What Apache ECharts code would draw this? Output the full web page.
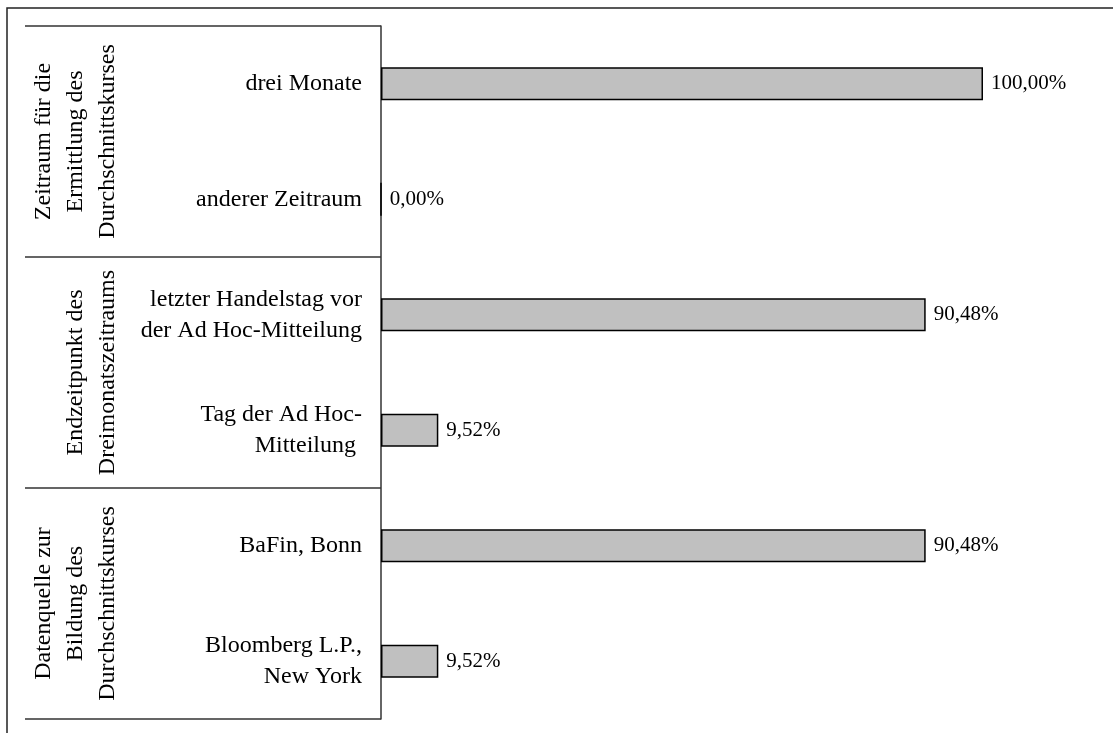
<!DOCTYPE html>
<html>
<head>
<meta charset="utf-8">
<script src="https://cdn.jsdelivr.net/npm/echarts@6/dist/echarts.min.js"></script>
<style>
  html, body { margin: 0; padding: 0; background: #fff; }
  #chart { width: 1113px; height: 733px; }
</style>
</head>
<body>
<div id="chart"></div>
<script>
const categories = [
  'drei Monate',
  'anderer Zeitraum',
  'letzter Handelstag vor\nder Ad Hoc-Mitteilung',
  'Tag der Ad Hoc-\nMitteilung ',
  'BaFin, Bonn',
  'Bloomberg L.P.,\nNew York'
];
const values = [100.00, 0.00, 90.48, 9.52, 90.48, 9.52];
const groups = [
  'Zeitraum für die\nErmittlung des\nDurchschnittskurses',
  'Endzeitpunkt des\nDreimonatszeitraums',
  'Datenquelle zur\nBildung des\nDurchschnittskurses'
];

const FONT = '"Liberation Serif", "Times New Roman", serif';
const chart = echarts.init(document.getElementById('chart'));
chart.setOption({
  animation: false,
  backgroundColor: '#fff',
  grid: { left: 381, right: 130, top: 26, bottom: 14, containLabel: false },
  xAxis: { type: 'value', min: 0, max: 100, show: false },
  yAxis: [
    {
      type: 'category',
      data: categories,
      inverse: true,
      position: 'left',
      axisLine: { show: true, lineStyle: { color: '#333', width: 1.5 } },
      axisTick: { show: false },
      splitLine: { show: false },
      axisLabel: {
        interval: 0,
        margin: 19,
        color: '#000',
        fontFamily: FONT,
        fontSize: 24,
        lineHeight: 31,
        align: 'right'
      }
    },
    {
      type: 'category',
      data: groups,
      inverse: true,
      position: 'left',
      offset: 0,
      axisLine: { show: false },
      axisTick: { show: true, interval: 0, length: 356, lineStyle: { color: '#333', width: 1.5 } },
      splitLine: { show: false },
      axisLabel: {
        interval: 0,
        rotate: 90,
        margin: 257,
        color: '#000',
        fontFamily: FONT,
        fontSize: 24,
        lineHeight: 32,
        align: 'center',
        verticalAlign: 'bottom'
      }
    }
  ],
  series: [{
    type: 'bar',
    yAxisIndex: 0,
    data: values,
    barWidth: 33,
    itemStyle: { color: '#c0c0c0', borderColor: '#000', borderWidth: 1.5 },
    label: {
      show: true,
      position: 'right',
      distance: 8,
      color: '#000',
      fontFamily: FONT,
      fontSize: 21,
      formatter: p => p.value.toFixed(2).replace('.', ',') + '%'
    }
  }],
  graphic: [{
    type: 'rect',
    shape: { x: 7, y: 8, width: 1200, height: 800 },
    style: { fill: 'none', stroke: '#222', lineWidth: 1.5 },
    silent: true
  }]
});
</script>
</body>
</html>
